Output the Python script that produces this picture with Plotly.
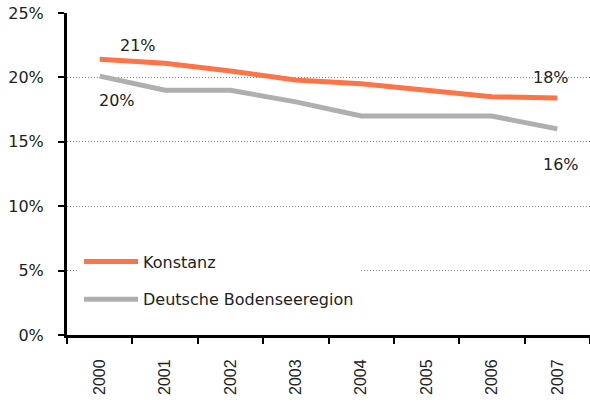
import plotly.graph_objects as go

years = ["2000", "2001", "2002", "2003", "2004", "2005", "2006", "2007"]
konstanz = [21.4, 21.1, 20.5, 19.8, 19.5, 19.0, 18.5, 18.4]
bodensee = [20.1, 19.0, 19.0, 18.1, 17.0, 17.0, 17.0, 16.0]
y_ticks = [0, 5, 10, 15, 20, 25]
y_tick_labels = ["0%", "5%", "10%", "15%", "20%", "25%"]

FONT = "DejaVu Sans"
fig = go.Figure()
fig.add_trace(go.Scatter(x=years, y=konstanz, mode="lines", name="Konstanz",
                         line=dict(color="#FF7446", width=5), legendgroup="a"))
fig.add_trace(go.Scatter(x=years, y=bodensee, mode="lines", name="Deutsche Bodenseeregion",
                         line=dict(color="#AFAFAF", width=5), legendgroup="b"))

labels = [
    (0, konstanz[0], "21%", 38, 14),
    (0, bodensee[0], "20%", 17, -24),
    (len(years) - 1, konstanz[-1], "18%", -6, 21),
    (len(years) - 1, bodensee[-1], "16%", 4, -36),
]
for xi, y, t, dx, dy in labels:
    fig.add_annotation(x=xi, y=y, xref="x", yref="y", text=t, showarrow=False,
                       xshift=dx, yshift=dy,
                       font=dict(family=FONT, size=16, color="#222"))

fig.update_layout(
    width=590, height=403,
    margin=dict(l=67, r=0, t=13, b=68),
    plot_bgcolor="white", paper_bgcolor="white",
    font=dict(family=FONT, size=16, color="#222"),
    showlegend=True,
    legend=dict(x=0.023, y=0.281, xanchor="left", yanchor="top",
                bgcolor="white", traceorder="grouped", tracegroupgap=14,
                font=dict(family=FONT, size=16, color="#222"), itemwidth=54),
    xaxis=dict(type="category", range=[-0.5, 7.5], showline=True, linecolor="black",
               linewidth=3, ticks="outside", tickson="boundaries", ticklen=6,
               tickwidth=2, tickcolor="black", tickangle=-90, showgrid=False,
               ticklabelstandoff=15, automargin=False,
               tickfont=dict(family="Liberation Sans", size=16, color="#222")),
    yaxis=dict(range=[0, 25], tickvals=y_ticks, ticktext=y_tick_labels,
               showline=True, linecolor="black", linewidth=3, ticks="outside",
               ticklen=6, tickwidth=2, tickcolor="black",
               showgrid=True, gridcolor="#888", griddash="1px,2px", gridwidth=1,
               ticklabelstandoff=11, zeroline=False, automargin=False,
               tickfont=dict(family=FONT, size=16, color="#222")),
)
fig.write_html("out.html", config={"displayModeBar": False},
               post_script="document.body.style.margin='0px';")
